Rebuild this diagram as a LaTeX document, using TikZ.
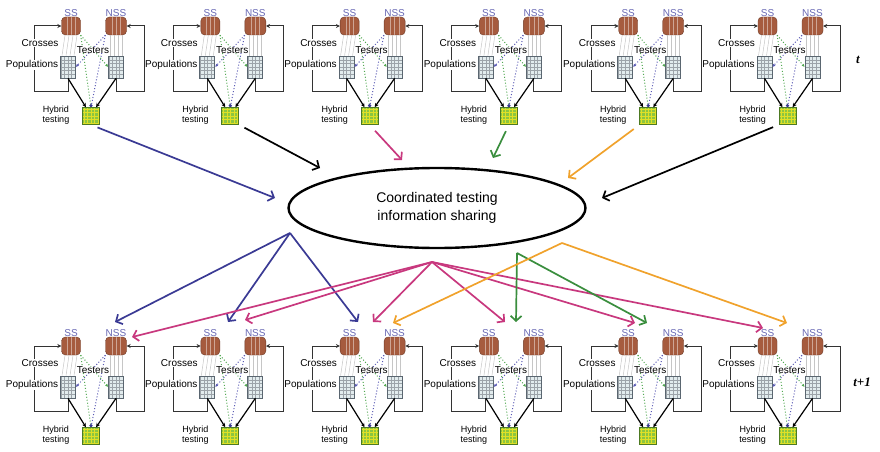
\documentclass[tikz,border=0pt]{standalone}
\usepackage{fontspec}
\setmainfont{Liberation Sans}
\newfontfamily\timefont{Liberation Serif}
\usepackage{tikz}
\usetikzlibrary{arrows.meta,
                calc,
                positioning,
                shapes.geometric}

\definecolor{seedbrown}{HTML}{A65B3E}
\definecolor{seededge}{HTML}{6E3B28}
\definecolor{popfill}{HTML}{E2ECEE}
\definecolor{popedge}{HTML}{5A6670}
\definecolor{hybfill}{HTML}{8CC640}
\definecolor{hybedge}{HTML}{4D7A22}
\definecolor{grouplab}{HTML}{6868B4}
\definecolor{arrblue}{HTML}{3A3A94}
\definecolor{arrmag}{HTML}{C8387E}
\definecolor{arrgreen}{HTML}{3A8E3E}
\definecolor{arrorange}{HTML}{F0A22C}
\definecolor{dotgreen}{HTML}{52A852}
\definecolor{dotblue}{HTML}{5A5AB4}

\tikzset{
  seedbox/.style={draw=seededge, fill=seedbrown, rounded corners=4pt,
    minimum width=19pt, minimum height=18pt, inner sep=0pt,
    path picture={\foreach \k in {0.3,0.5,0.7}
      \draw[seedbrown!55!white, line width=0.6pt]
        ($(path picture bounding box.north west)!\k!(path picture bounding box.north east)$) --
        ($(path picture bounding box.south west)!\k!(path picture bounding box.south east)$);}},
  popgrid/.style={draw=popedge, fill=popfill, line width=0.7pt,
    minimum width=15pt, minimum height=22pt, inner sep=0pt,
    path picture={\draw[popedge!60, line width=0.3pt, step=3.6pt]
      (path picture bounding box.south west) grid (path picture bounding box.north east);}},
  hybbox/.style={draw=hybedge, fill=hybfill, line width=0.7pt,
    minimum size=17pt, inner sep=0pt,
    path picture={\draw[yellow!70!hybfill, line width=0.4pt, step=3.4pt]
      (path picture bounding box.south west) grid (path picture bounding box.north east);}},
  grouplabel/.style={text=grouplab, font=\fontsize{10}{11}\selectfont, inner sep=0.5pt},
  lab/.style={font=\fontsize{10}{11}\selectfont, inner sep=0.5pt},
  hyblab/.style={font=\fontsize{9}{10.5}\selectfont, align=center, inner sep=0.5pt},
  testerline/.style={gray!45, line width=0.5pt},
  dotg/.style={dotgreen, dotted, line width=1pt},
  dotb/.style={dotblue, dotted, line width=1pt},
  loopline/.style={black!80, line width=1pt, -{Stealth[length=4pt,width=4pt]}},
  feedarrow/.style={black, line width=1.2pt, -{Stealth[length=4pt,width=4pt]}},
  flowarrow/.style={line width=1.7pt, -{Straight Barb[length=5pt,width=11pt]}},
  timelab/.style={font=\timefont\bfseries\itshape\fontsize{13}{14}\selectfont}
}

\begin{document}
\begin{tikzpicture}[x=1pt,y=-1pt]
\useasboundingbox (0,0) rectangle (880,452);

% one breeding unit per program, two rows: t and t+1
\foreach \r/\hy in {t/116,b/436}{
  \foreach \i in {1,...,6}{
    \pgfmathsetmacro{\hx}{91+139.3*(\i-1)}
    \node[hybbox] (hyb-\r-\i) at (\hx,\hy) {};
    \node[seedbox] (ss-\r-\i) at (\hx-20,\hy-90) {};
    \node[seedbox, minimum width=21pt] (nss-\r-\i) at (\hx+25,\hy-90) {};
    \node[grouplabel, above=0pt of ss-\r-\i] (ssl-\r-\i) {SS};
    \node[grouplabel, above=0pt of nss-\r-\i] (nssl-\r-\i) {NSS};
    \node[popgrid] (pl-\r-\i) at (\hx-23,\hy-49) {};
    \node[popgrid] (pr-\r-\i) at (\hx+25,\hy-49) {};
    \foreach \k in {-6pt,-2pt,2pt,6pt}{
      \draw[testerline] ([xshift=\k]ss-\r-\i.south) -- ([xshift=\k]pl-\r-\i.north);
      \draw[testerline] ([xshift=\k]nss-\r-\i.south) -- ([xshift=\k]pr-\r-\i.north);
    }
    % recurrent loops
    \draw[loopline] (pl-\r-\i.south) |- (\hx-57,\hy-25) |- (ss-\r-\i.west);
    \draw[loopline] (pr-\r-\i.south) |- (\hx+53,\hy-25) |- (nss-\r-\i.east);
    % testers
    \draw[dotg] (ss-\r-\i.south east) -- (hyb-\r-\i.north);
    \draw[dotb] (nss-\r-\i.south west) -- (hyb-\r-\i.north);
    \draw[dotg, -{Latex[length=3pt,width=3pt]}] (ss-\r-\i.south east) -- (pr-\r-\i.west);
    \draw[dotb, -{Latex[length=3pt,width=3pt]}] (nss-\r-\i.south west) -- (pl-\r-\i.east);
    \fill[arrblue] ([yshift=1.5pt]hyb-\r-\i.north) circle (1.8pt);
    \draw[feedarrow] (pl-\r-\i.south) -- (hyb-\r-\i.120);
    \draw[feedarrow] (pr-\r-\i.south) -- (hyb-\r-\i.60);
    \node[lab, fill=white] (cr-\r-\i) at (\hx-51,\hy-73) {Crosses};
    \node[lab, fill=white, inner sep=0pt] (te-\r-\i) at (\hx+2,\hy-66) {Testers};
    \node[lab, fill=white] (po-\r-\i) at (\hx-59,\hy-51) {Populations};
    \node[hyblab] (ht-\r-\i) at (\hx-35,\hy-1) {Hybrid\\testing};
  }
}

\node[timelab] (tnow) at (858,60) {t};
\node[timelab] (tnext) at (862,382) {t+1};

\node[ellipse, draw, line width=2.4pt, minimum width=297pt, minimum height=80pt,
      align=center, font=\fontsize{14}{18}\selectfont] (info) at (437,208)
      {Coordinated testing\\information sharing};

% into the shared pool
\coordinate (in-1) at (275,198);
\coordinate (in-2) at (320,168);
\coordinate (in-3) at (402,160);
\coordinate (in-4) at (493,158);
\coordinate (in-5) at (568,178);
\coordinate (in-6) at (602,198);
\draw[flowarrow, arrblue, shorten <=7pt] (hyb-t-1.south) -- (in-1);
\draw[flowarrow, black, shorten <=6pt] (hyb-t-2.south east) -- (in-2);
\draw[flowarrow, arrmag, shorten <=8pt] (hyb-t-3.south) -- (in-3);
\draw[flowarrow, arrgreen, shorten <=7pt] (hyb-t-4.south) -- (in-4);
\draw[flowarrow, arrorange, shorten <=7pt] (hyb-t-5.south west) -- (in-5);
\draw[flowarrow, black, shorten <=6pt] (hyb-t-6.south west) -- (in-6);

% out of the shared pool
\coordinate (hub-bl) at (290,233);
\coordinate (hub-mg) at (432,262);
\coordinate (hub-gr) at (517,253);
\coordinate (hub-or) at (562,243);
\foreach \n/\x/\y in {bl1/115/322, bl2/228/322, bl3/358/322,
                      mg1/132/337, mg2/245/320, mg3/373/322, mg4/505/322,
                      mg5/635/323, mg6/763/328,
                      gr4/516/322, gr5/647/323, or3/393/323, or6/787/323}
  \coordinate (tip-\n) at (\x,\y);

\foreach \n in {bl1,bl2,bl3}
  \draw[flowarrow, arrblue] (hub-bl) -- (tip-\n);
\foreach \n in {mg1,mg2,mg3,mg4,mg5,mg6}
  \draw[flowarrow, arrmag] (hub-mg) -- (tip-\n);
\foreach \n in {gr4,gr5}
  \draw[flowarrow, arrgreen] (hub-gr) -- (tip-\n);
\foreach \n in {or3,or6}
  \draw[flowarrow, arrorange] (hub-or) -- (tip-\n);
\end{tikzpicture}
\end{document}
